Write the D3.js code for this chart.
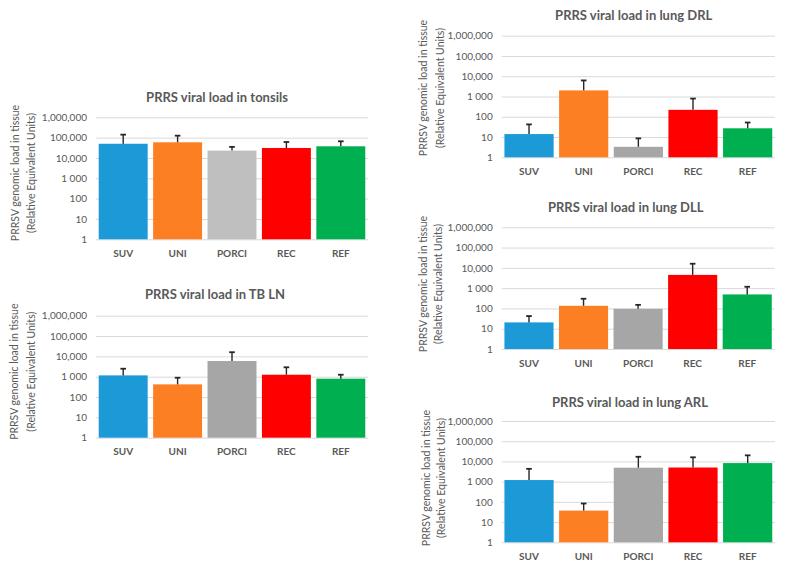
<!DOCTYPE html>
<html>
<head>
<meta charset="utf-8">
<script src="https://cdn.jsdelivr.net/npm/d3@7"></script>
<style>
  body { margin: 0; background: #fff; }
  svg { display: block; font-family: Lato, "Open Sans", sans-serif; }
</style>
</head>
<body>
<script>
const w = 789;
const h = 574;

const categories = ["SUV", "UNI", "PORCI", "REC", "REF"];
const tickValues = [1, 10, 100, 1000, 10000, 100000, 1000000];
const tickLabels = ["1", "10", "100", "1 000", "10,000", "100,000", "1,000,000"];

// mean and top of error bar, per tissue
const tonsilsMean  = [50000, 59000, 23000, 31000, 37500];
const tonsilsUpper = [140000, 125000, 35000, 61000, 66000];
const tblnMean     = [1160, 420, 5900, 1250, 800];
const tblnUpper    = [2470, 890, 16000, 2900, 1250];
const drlMean      = [14, 2000, 3.3, 220, 27];
const drlUpper     = [42, 6200, 8.6, 790, 52];
const dllMean      = [20.5, 135, 96, 4500, 490];
const dllUpper     = [42, 300, 150, 16000, 1170];
const arlMean      = [1200, 37, 4900, 5000, 8300];
const arlUpper     = [4300, 83, 17000, 16000, 20000];

const colors = ["#1b9ad7", "#fd7f24", "#a6a6a6", "#ff0000", "#00b050"];
const textColor = "#595959";

const panels = [
  {title: "PRRS viral load in tonsils", mean: tonsilsMean, upper: tonsilsUpper,
   L: 96, R: 368, T: 117.3, B: 239.3, titleX: 217, titleY: 101.5, yt1: 15.3, yt2: 31.7, ytY: 173, gray: "#bfbfbf"},
  {title: "PRRS viral load in TB LN", mean: tblnMean, upper: tblnUpper,
   L: 96, R: 368, T: 315.7, B: 437.7, titleX: 215, titleY: 299, yt1: 14.5, yt2: 31.3, ytY: 371.7},
  {title: "PRRS viral load in lung DRL", mean: drlMean, upper: drlUpper,
   L: 501.7, R: 775, T: 35.7, B: 157.3, titleX: 633.7, titleY: 20, yt1: 423.5, yt2: 440, ytY: 88},
  {title: "PRRS viral load in lung DLL", mean: dllMean, upper: dllUpper,
   L: 501.7, R: 774.5, T: 227.3, B: 349, titleX: 625.7, titleY: 211.5, yt1: 423.5, yt2: 438.5, ytY: 284},
  {title: "PRRS viral load in lung ARL", mean: arlMean, upper: arlUpper,
   L: 501.7, R: 775, T: 421, B: 542.3, titleX: 630, titleY: 406.5, yt1: 426.5, yt2: 441.5, ytY: 478}
];

const svg = d3.select("body")
              .append("svg")
              .attr("width", w)
              .attr("height", h);

function drawPanel(p) {
  const g = svg.append("g");

  const yScale = d3.scaleLog()
                   .domain([1, 1000000])
                   .range([p.B, p.T]);

  const xScale = d3.scaleBand()
                   .domain(categories)
                   .range([p.L, p.R])
                   .paddingInner(0.1)
                   .paddingOuter(0.05);

  // grid + y tick labels
  const yAxis = d3.axisLeft(yScale)
                  .tickValues(tickValues)
                  .tickFormat((d, i) => tickLabels[i])
                  .tickSize(-(p.R - p.L))
                  .tickPadding(9);

  const ya = g.append("g")
              .attr("transform", "translate(" + p.L + ",0)")
              .call(yAxis);
  ya.select(".domain").remove();
  ya.selectAll("line").attr("stroke", "#d9d9d9");
  ya.selectAll("text")
    .attr("fill", textColor)
    .style("font-size", "10px")
    .style("font-family", "Lato, sans-serif");

  // bars
  g.selectAll("rect.bar")
   .data(categories)
   .enter()
   .append("rect")
   .attr("class", "bar")
   .attr("x", d => xScale(d))
   .attr("y", (d, i) => yScale(p.mean[i]))
   .attr("width", xScale.bandwidth())
   .attr("height", (d, i) => p.B - yScale(p.mean[i]))
   .attr("fill", (d, i) => (i === 2 && p.gray) ? p.gray : colors[i]);

  // error bars (upper only)
  const cx = d => xScale(d) + xScale.bandwidth() / 2;
  g.selectAll("line.err")
   .data(categories)
   .enter()
   .append("line")
   .attr("class", "err")
   .attr("x1", cx).attr("x2", cx)
   .attr("y1", (d, i) => yScale(p.mean[i]))
   .attr("y2", (d, i) => yScale(p.upper[i]))
   .attr("stroke", "#262626")
   .attr("stroke-width", 1.4);

  g.selectAll("line.cap")
   .data(categories)
   .enter()
   .append("line")
   .attr("class", "cap")
   .attr("x1", d => cx(d) - 2.8).attr("x2", d => cx(d) + 2.8)
   .attr("y1", (d, i) => yScale(p.upper[i]))
   .attr("y2", (d, i) => yScale(p.upper[i]))
   .attr("stroke", "#262626")
   .attr("stroke-width", 1.8);

  // category labels
  const xAxis = d3.axisBottom(xScale)
                  .tickSize(0)
                  .tickPadding(10.5);
  const xa = g.append("g")
              .attr("transform", "translate(0," + p.B + ")")
              .call(xAxis);
  xa.select(".domain").remove();
  xa.selectAll("text")
    .attr("fill", textColor)
    .style("font-size", "10px")
    .style("font-weight", "bold")
    .style("font-family", "Lato, sans-serif");

  // title
  g.append("text")
   .attr("x", p.titleX)
   .attr("y", p.titleY)
   .attr("text-anchor", "middle")
   .attr("fill", textColor)
   .style("font-size", "13px")
   .style("font-weight", "bold")
   .text(p.title);

  // y axis title (two lines)
  [["PRRSV genomic load in tissue", p.yt1], ["(Relative Equivalent Units)", p.yt2]].forEach(t => {
    g.append("text")
     .attr("transform", "translate(" + t[1] + "," + p.ytY + ") rotate(-90)")
     .attr("text-anchor", "middle")
     .attr("dy", "0.35em")
     .attr("fill", textColor)
     .style("font-size", "10.5px")
     .text(t[0]);
  });
}

panels.forEach(drawPanel);
</script>
</body>
</html>
